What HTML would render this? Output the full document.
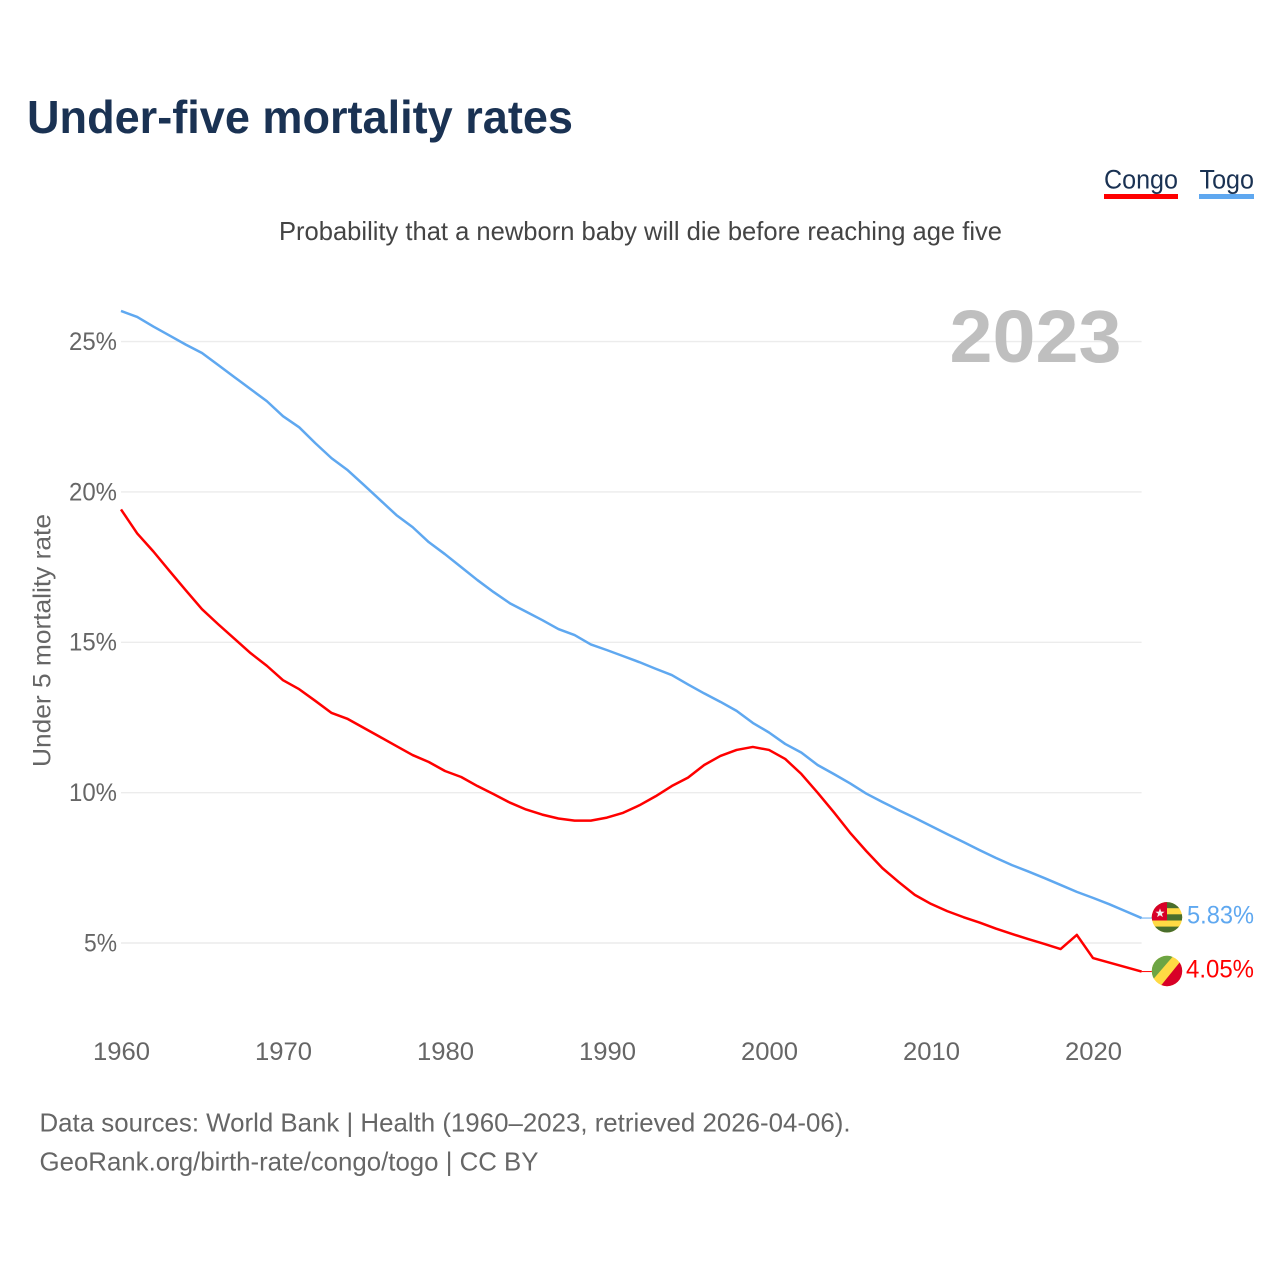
<!DOCTYPE html>
<html lang="en">
<head>
<meta charset="utf-8">
<title>Under-five mortality rates</title>
<style>
html,body{margin:0;padding:0;background:#fff;width:1280px;height:1280px;overflow:hidden}
svg{display:block}
text{font-family:"Liberation Sans",Arial,sans-serif}
</style>
</head>
<body>
<svg id="chart" xmlns="http://www.w3.org/2000/svg" width="1280" height="1280" viewBox="0 0 1280 1280">
  <defs>
    <clipPath id="flag-clip-togo"><circle cx="1167" cy="917.3" r="15.2"/></clipPath>
    <clipPath id="flag-clip-congo"><circle cx="1167" cy="971" r="15.2"/></clipPath>
  </defs>
  <rect x="0" y="0" width="1280" height="1280" fill="#fff"/>
  <text x="27" y="133" font-size="46" font-weight="700" fill="#1a3253" textLength="546" lengthAdjust="spacingAndGlyphs">Under-five mortality rates</text>
  <text x="279" y="240" font-size="26" fill="#444" textLength="723" lengthAdjust="spacingAndGlyphs">Probability that a newborn baby will die before reaching age five</text>

  <g>
    <text x="1104" y="188.5" font-size="27" fill="#1a3253" textLength="74" lengthAdjust="spacingAndGlyphs">Congo</text>
    <rect x="1104" y="194" width="74" height="5" fill="#ff0000"/>
    <text x="1199.5" y="188.5" font-size="27" fill="#1a3253" textLength="54.5" lengthAdjust="spacingAndGlyphs">Togo</text>
    <rect x="1199" y="194" width="55" height="5" fill="#5fa8f0"/>
  </g>

  <g id="grid"></g>
  <text x="949.5" y="362" font-size="74" font-weight="700" fill="#bfbfbf" textLength="172" lengthAdjust="spacingAndGlyphs">2023</text>
  <g id="y-ticks"></g>
  <g id="x-ticks"></g>
  <text transform="translate(50.5 767) rotate(-90)" x="0" y="0" font-size="25" fill="#666" textLength="253" lengthAdjust="spacingAndGlyphs">Under 5 mortality rate</text>
  <g id="series"></g>

  <g clip-path="url(#flag-clip-togo)">
    <rect x="1150" y="902" width="34" height="31" fill="#ffda44"/>
    <rect x="1150" y="902" width="34" height="6.2" fill="#496e2d"/>
    <rect x="1150" y="914.3" width="34" height="6.2" fill="#496e2d"/>
    <rect x="1150" y="926.6" width="34" height="6.4" fill="#496e2d"/>
    <rect x="1150" y="902" width="17" height="18.5" fill="#d80027"/>
    <polygon points="1160,908.4 1161.2,911.6 1164.6,911.7 1161.9,913.8 1162.9,917.1 1160,915.2 1157.1,917.1 1158.1,913.8 1155.4,911.7 1158.8,911.6" fill="#f0f0f0"/>
  </g>
  <g clip-path="url(#flag-clip-congo)">
    <rect x="1150" y="954" width="34" height="34" fill="#ffda44"/>
    <polygon points="1150,954 1175,954 1150,983" fill="#6da544"/>
    <polygon points="1184,957 1184,988 1159,988" fill="#d80027"/>
  </g>

  <text id="label-togo" x="1187" y="923.5" font-size="25" fill="#5fa8f0" textLength="67" lengthAdjust="spacingAndGlyphs"></text>
  <text id="label-congo" x="1186" y="977.5" font-size="25" fill="#ff0000" textLength="68" lengthAdjust="spacingAndGlyphs"></text>

  <text x="39.5" y="1131.5" font-size="26" fill="#666" textLength="811" lengthAdjust="spacingAndGlyphs">Data sources: World Bank | Health (1960–2023, retrieved 2026-04-06).</text>
  <text x="39.5" y="1170.5" font-size="26" fill="#666" textLength="499" lengthAdjust="spacingAndGlyphs">GeoRank.org/birth-rate/congo/togo | CC BY</text>
</svg>
<script>
const startYear = 1960;
const togoValues = [26.02,25.82,25.5,25.2,24.9,24.62,24.22,23.82,23.42,23.02,22.52,22.15,21.62,21.12,20.72,20.23,19.73,19.23,18.83,18.33,17.93,17.5,17.07,16.67,16.3,16.02,15.74,15.44,15.24,14.93,14.74,14.54,14.34,14.12,13.91,13.6,13.3,13.02,12.72,12.32,12.0,11.62,11.33,10.92,10.62,10.31,9.97,9.69,9.42,9.16,8.89,8.62,8.36,8.09,7.83,7.59,7.38,7.16,6.93,6.7,6.5,6.29,6.06,5.83];
const congoValues = [19.42,18.62,18.02,17.37,16.73,16.1,15.6,15.12,14.64,14.22,13.74,13.44,13.05,12.65,12.45,12.15,11.85,11.55,11.25,11.02,10.72,10.52,10.22,9.95,9.67,9.44,9.27,9.14,9.07,9.07,9.17,9.33,9.58,9.88,10.22,10.5,10.92,11.22,11.42,11.52,11.42,11.12,10.62,10.0,9.35,8.67,8.06,7.49,7.03,6.6,6.3,6.06,5.86,5.68,5.48,5.3,5.13,4.97,4.8,5.27,4.5,4.35,4.2,4.05];
const yTickValues = [5,10,15,20,25];
const xTickYears = [1960,1970,1980,1990,2000,2010,2020];

const NS = 'http://www.w3.org/2000/svg';
function xScale(year){ return 121 + (year - 1960) * 16.2; }
function yScale(v){ return 943 - (v - 5) * 30.07; }
function linePoints(values){
  return values.map(function(v,i){ return xScale(startYear + i).toFixed(2) + ',' + yScale(v).toFixed(2); }).join(' ');
}

const grid = document.getElementById('grid');
const yTicks = document.getElementById('y-ticks');
yTickValues.forEach(function(v){
  const g = document.createElementNS(NS,'line');
  
  
  g.setAttribute('x1', xScale(1960));
  g.setAttribute('x2', xScale(2023));
  g.setAttribute('y1', yScale(v));
  g.setAttribute('y2', yScale(v));
  g.setAttribute('stroke', '#ececec');
  g.setAttribute('stroke-width', '1.4');
  grid.appendChild(g);

  const t = document.createElementNS(NS,'text');
  
  
  const label = v + '%';
  const w = label.length === 2 ? 33 : 48;
  t.setAttribute('x', 117 - w);
  t.setAttribute('y', yScale(v) + 8.3);
  t.setAttribute('font-size', '25');
  t.setAttribute('fill', '#666');
  t.setAttribute('textLength', w);
  t.setAttribute('lengthAdjust', 'spacingAndGlyphs');
  t.textContent = label;
  yTicks.appendChild(t);
});

const xTicks = document.getElementById('x-ticks');
xTickYears.forEach(function(y){
  const t = document.createElementNS(NS,'text');
  
  
  t.setAttribute('x', xScale(y) - 28);
  t.setAttribute('y', 1060);
  t.setAttribute('font-size', '25');
  t.setAttribute('fill', '#666');
  t.setAttribute('textLength', '57');
  t.setAttribute('lengthAdjust', 'spacingAndGlyphs');
  t.textContent = String(y);
  xTicks.appendChild(t);
});

const series = document.getElementById('series');
const togoLine = document.createElementNS(NS,'polyline');


togoLine.setAttribute('points', linePoints(togoValues));
togoLine.setAttribute('fill', 'none');
togoLine.setAttribute('stroke', '#5fa8f0');
togoLine.setAttribute('stroke-width', '2.5');
togoLine.setAttribute('stroke-linejoin', 'round');
series.appendChild(togoLine);

const congoLine = document.createElementNS(NS,'polyline');


congoLine.setAttribute('points', linePoints(congoValues));
congoLine.setAttribute('fill', 'none');
congoLine.setAttribute('stroke', '#ff0000');
congoLine.setAttribute('stroke-width', '2.5');
congoLine.setAttribute('stroke-linejoin', 'round');
series.appendChild(congoLine);

const togoLast = togoValues[togoValues.length - 1];
const congoLast = congoValues[congoValues.length - 1];

const togoConnector = document.createElementNS(NS,'line');


togoConnector.setAttribute('x1', xScale(2023));
togoConnector.setAttribute('x2', 1153);
togoConnector.setAttribute('y1', yScale(togoLast));
togoConnector.setAttribute('y2', yScale(togoLast));
togoConnector.setAttribute('stroke', '#5fa8f0');
togoConnector.setAttribute('stroke-width', '1');
series.appendChild(togoConnector);

const congoConnector = document.createElementNS(NS,'line');


congoConnector.setAttribute('x1', xScale(2023));
congoConnector.setAttribute('x2', 1153);
congoConnector.setAttribute('y1', yScale(congoLast));
congoConnector.setAttribute('y2', yScale(congoLast));
congoConnector.setAttribute('stroke', '#ff0000');
congoConnector.setAttribute('stroke-width', '1');
series.appendChild(congoConnector);

document.getElementById('label-togo').textContent = togoLast.toFixed(2) + '%';
document.getElementById('label-congo').textContent = congoLast.toFixed(2) + '%';
</script>
</body>
</html>
